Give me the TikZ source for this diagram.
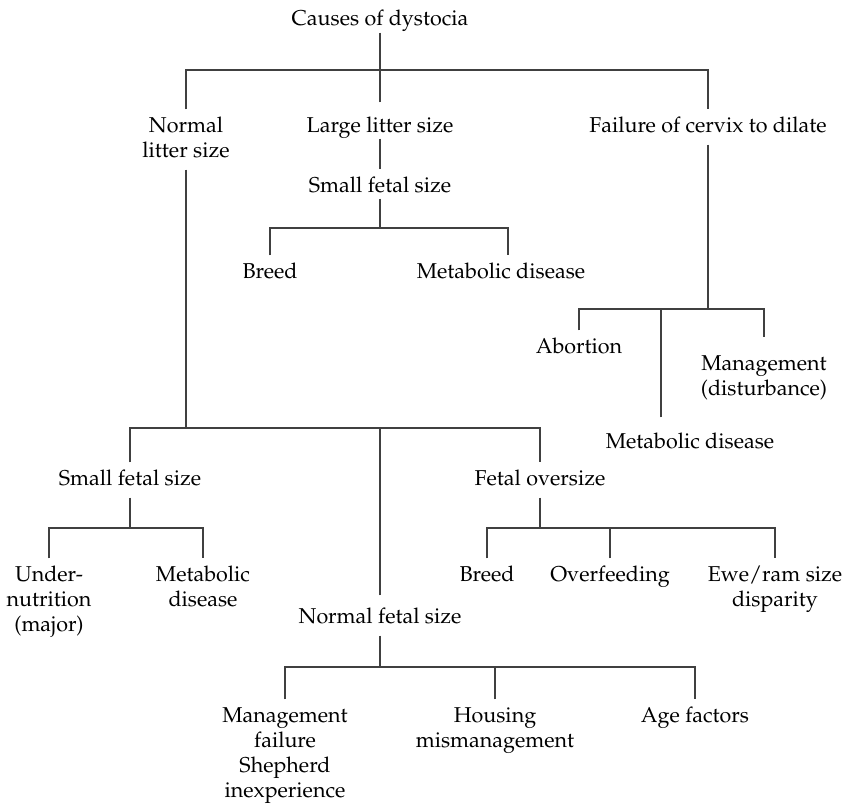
\documentclass[tikz,border=0pt]{standalone}
\usepackage[T1]{fontenc}
\renewcommand{\rmdefault}{ppl}
\newcommand{\mytab}[1]{\begin{tabular}[t]{@{}c@{}}#1\end{tabular}}
\begin{document}
\begin{tikzpicture}[x=1pt,y=-1pt,
  lbl/.style={inner xsep=0pt, inner ysep=5pt, anchor=base,
    font=\fontsize{21.5}{25}\selectfont},
  conn/.style={draw=black!75, line width=1.1pt}]
\useasboundingbox (0,0) rectangle (844,804);
% nodes
\node[lbl] (root) at (380,25) {\mytab{Causes of dystocia}};
\node[lbl] (nls) at (186,132) {\mytab{Normal\\litter size}};
\node[lbl] (lls) at (380,132) {\mytab{Large litter size}};
\node[lbl] (fail) at (708,132) {\mytab{Failure of cervix to dilate}};
\node[lbl] (sfs1) at (380,192) {\mytab{Small fetal size}};
\node[lbl] (br1) at (270,278) {\mytab{Breed}};
\node[lbl] (met1) at (501,278) {\mytab{Metabolic disease}};
\node[lbl] (ab) at (579,353) {\mytab{Abortion}};
\node[lbl] (mg) at (764,370) {\mytab{Management\\(disturbance)}};
\node[lbl] (met2) at (690,448) {\mytab{Metabolic disease}};
\node[lbl] (sfs2) at (130,485) {\mytab{Small fetal size}};
\node[lbl] (fo) at (540,485) {\mytab{Fetal oversize}};
\node[lbl] (un) at (49,581) {\mytab{Under-\\nutrition\\(major)}};
\node[lbl] (met3) at (203,581) {\mytab{Metabolic\\disease}};
\node[lbl] (br2) at (487,581) {\mytab{Breed}};
\node[lbl] (ov) at (610,581) {\mytab{Overfeeding}};
\node[lbl] (ew) at (775,581) {\mytab{Ewe/ram size\\disparity}};
\node[lbl] (nfs) at (380,623) {\mytab{Normal fetal size}};
\node[lbl] (mf) at (285,722) {\mytab{Management\\failure\\Shepherd\\inexperience}};
\node[lbl] (hs) at (495,722) {\mytab{Housing\\mismanagement}};
\node[lbl] (af) at (695,722) {\mytab{Age factors}};
% junction levels
\coordinate (h0) at (380,70);
\coordinate (h1) at (380,228);
\coordinate (h2) at (707,309);
\coordinate (h3) at (381,428);
\coordinate (h4) at (128,528);
\coordinate (h5) at (540,528);
\coordinate (h6) at (380,667);
\coordinate (m1top) at ([xshift=7pt]met1.north);
\coordinate (m2top) at ([xshift=-29pt,yshift=8pt]met2.north);
\coordinate (mgtop) at ([yshift=10pt]mg.north);
% connectors
\draw[conn] ([yshift=5pt]root.south) -- (root.south |- h0);
\draw[conn] (nls.north) |- (fail.north |- h0) -- (fail.north);
\draw[conn] ([yshift=7pt]lls.north) -- (lls.north |- h0);
\draw[conn] ([yshift=6pt]lls.south) -- (sfs1.north);
\draw[conn] ([yshift=6pt]sfs1.south) -- (sfs1.south |- h1);
\draw[conn] (br1.north) |- (m1top |- h1) -- (m1top);
\draw[conn] (fail.south) -- (fail.south |- h2);
\draw[conn] (ab.north) |- (mgtop |- h2) -- (mgtop);
\draw[conn] (m2top) -- (m2top |- h2);
\draw[conn] (nls.south) -- (nls.south |- h3);
\draw[conn] (sfs2.north) |- (fo.north |- h3) -- (fo.north);
\draw[conn] ([yshift=5pt]nfs.north) -- (nfs.north |- h3);
\draw[conn] (sfs2.south) -- (sfs2.south |- h4);
\draw[conn] (un.north) |- (met3.north |- h4) -- (met3.north);
\draw[conn] (fo.south) -- (fo.south |- h5);
\draw[conn] (br2.north) |- (ew.north |- h5) -- (ew.north);
\draw[conn] (ov.north) -- (ov.north |- h5);
\draw[conn] (nfs.south) -- (nfs.south |- h6);
\draw[conn] (mf.north) |- (af.north |- h6) -- (af.north);
\draw[conn] (hs.north) -- (hs.north |- h6);
\end{tikzpicture}
\end{document}
